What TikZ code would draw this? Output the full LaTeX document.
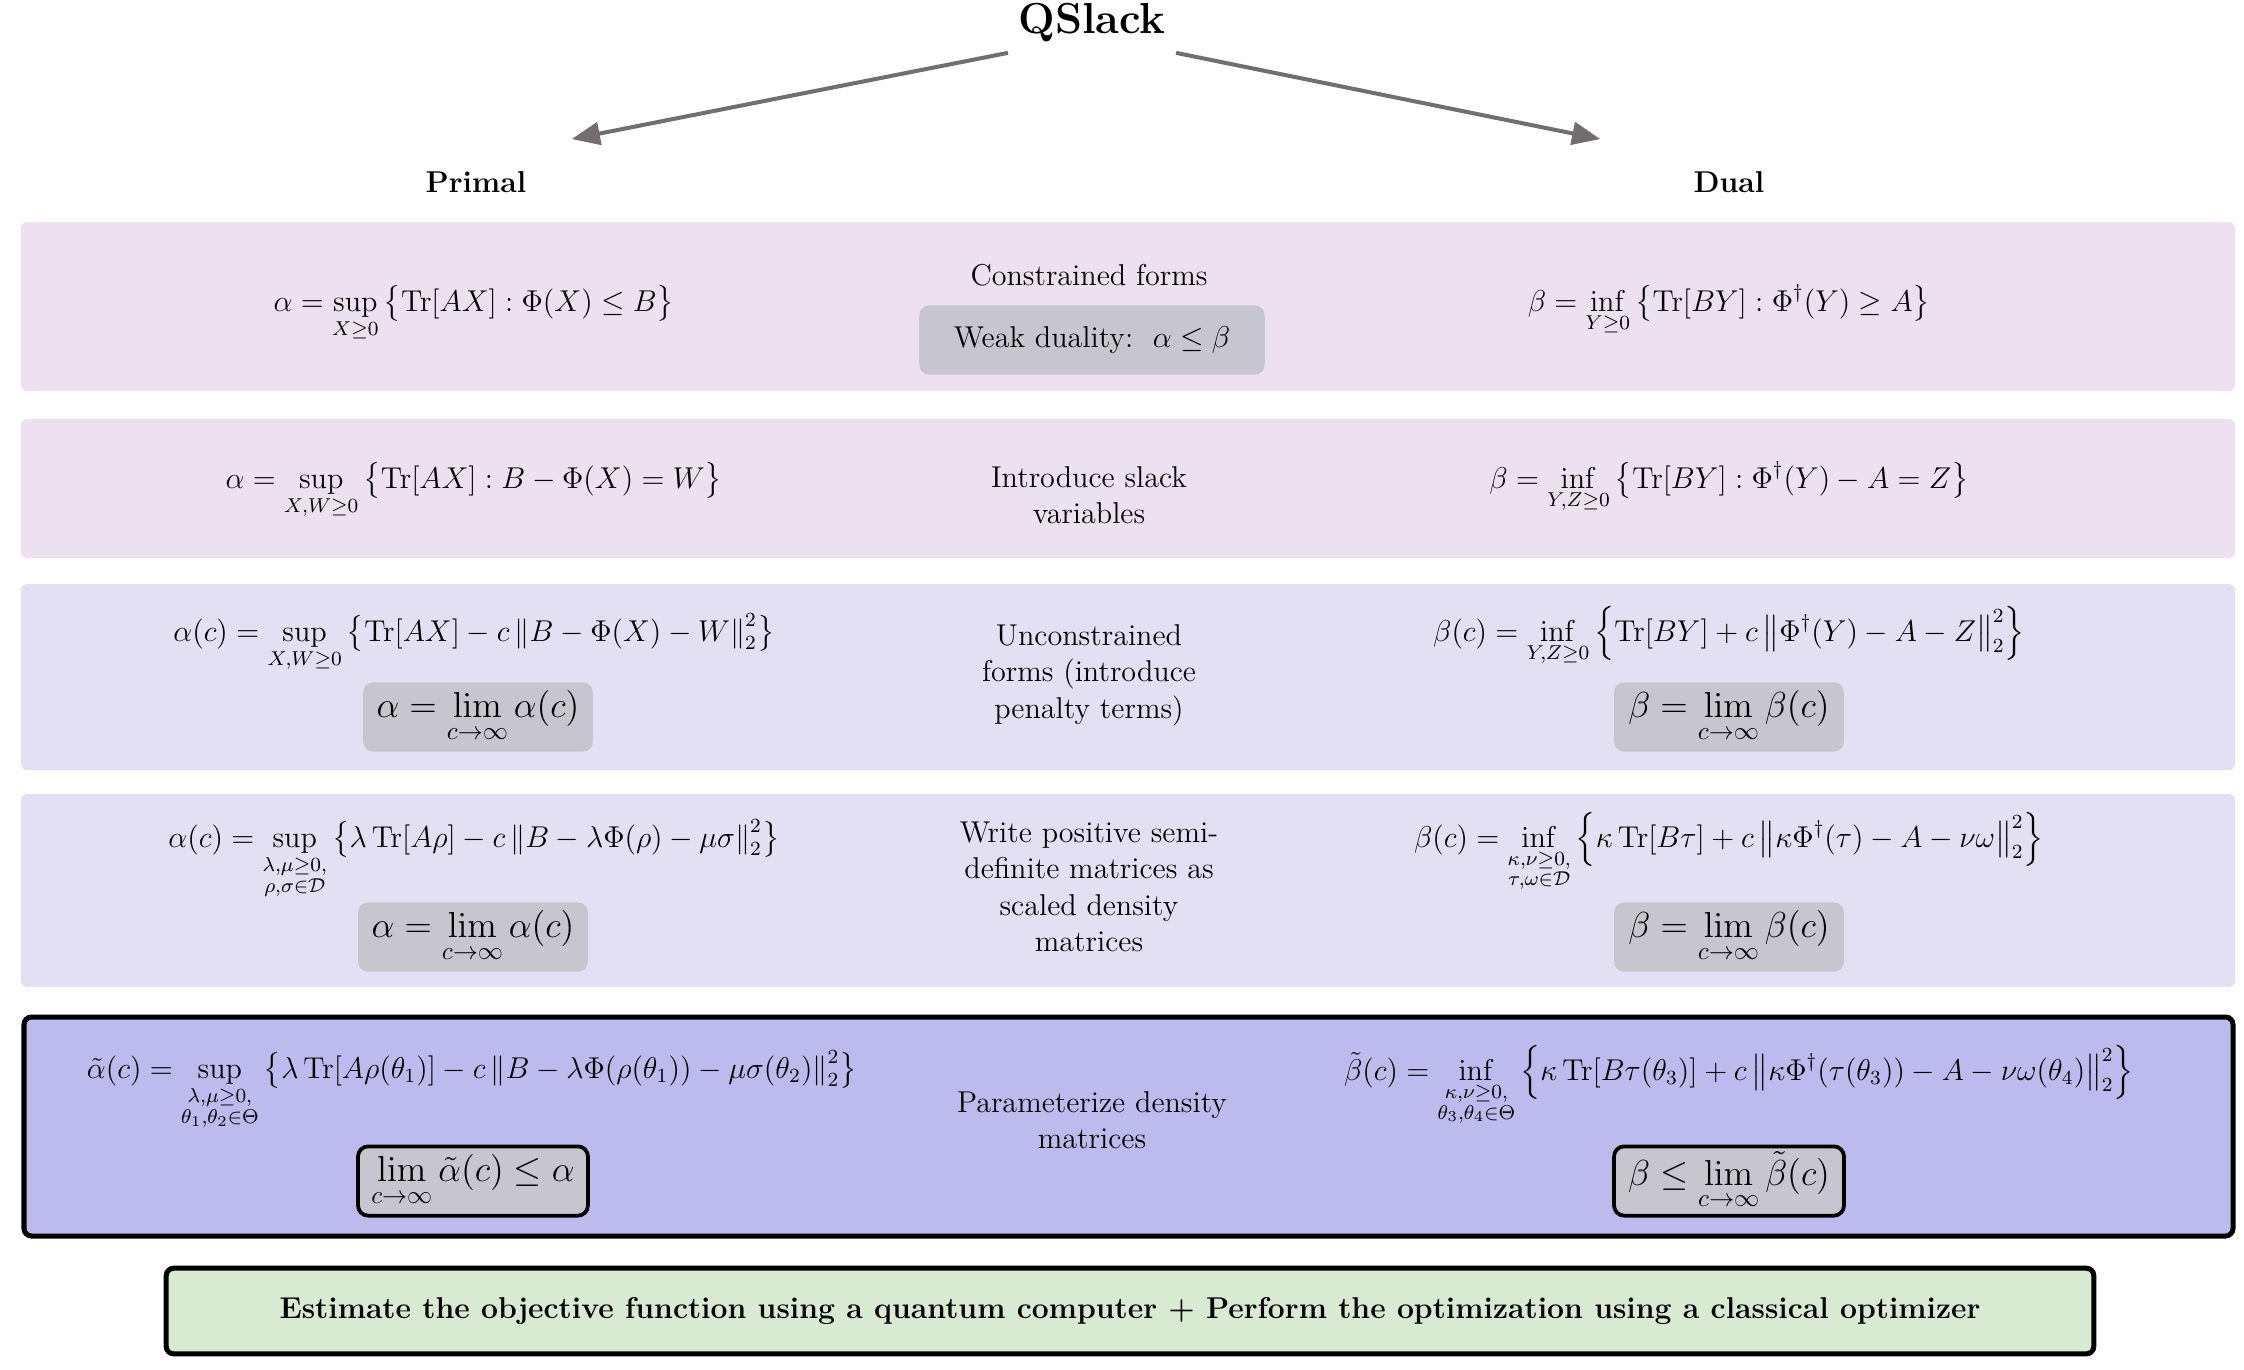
\documentclass[tikz,border=0pt,12pt]{standalone}
\usepackage{amsmath}
\usepackage{amsfonts}
\usepackage{amssymb}
\usetikzlibrary{arrows}

\definecolor{pinkband}{HTML}{EDE1F1}
\definecolor{lilacband}{HTML}{E3E0F3}
\definecolor{blueband}{HTML}{BDBBEE}
\definecolor{limgray}{HTML}{C7C6CE}
\definecolor{greenbox}{HTML}{D9EAD3}
\definecolor{arrowgray}{HTML}{736D70}

\begin{document}
\begin{tikzpicture}[x=0.014cm, y=-0.014cm,
  band/.style={rounded corners=2.5pt},
  limbox/.style={fill=limgray, rounded corners=4pt, minimum width=3.22cm, minimum height=0.97cm, inner sep=2pt, font=\large},
  midtext/.style={align=center},
  formula/.style={anchor=base},
  head/.style={font=\bfseries}]
\useasboundingbox (0,0) rectangle (2244,1369);

% background bands
\fill[pinkband, band] (21,222) rectangle (2235,391);
\fill[pinkband, band] (21,419) rectangle (2235,558);
\fill[lilacband, band] (21,584) rectangle (2235,770);
\fill[lilacband, band] (21,794) rectangle (2235,987);
\draw[black, line width=2pt, fill=blueband, rounded corners=3pt] (24,1017) rectangle (2233,1236);

% title and branches
\node[head, font=\bfseries\Large] (qs) at (1092,23) {QSlack};
\node[head] (primal) at (476,182) {Primal};
\node[head] (dual) at (1729,182) {Dual};
\coordinate (pl) at (572,139);
\coordinate (dl) at (1600,139);
\draw[-triangle 45, arrowgray, line width=1.6pt] (qs.south west) -- (pl);
\draw[-triangle 45, arrowgray, line width=1.6pt] (qs.south east) -- (dl);

% row 1
\node[formula] (p1) at (474,311) {$\displaystyle \alpha = \sup_{X\geq 0}\big\{\mathrm{Tr}[AX] : \Phi(X)\leq B\big\}$};
\node[midtext] (m1) at (1089,275) {Constrained forms};
\node[limbox, minimum width=4.84cm, font=\normalsize] (wd) at (1092,340) {Weak duality:\ \ $\alpha\leq\beta$};
\node[formula] (d1) at (1729,311) {$\displaystyle \beta = \inf_{Y\geq 0}\big\{\mathrm{Tr}[BY] : \Phi^\dagger(Y)\geq A\big\}$};

% row 2
\node[formula] (p2) at (474,488) {$\displaystyle \alpha = \sup_{X,W\geq 0}\big\{\mathrm{Tr}[AX] : B-\Phi(X) = W\big\}$};
\node[midtext] (m2) at (1089,495) {Introduce slack\\variables};
\node[formula] (d2) at (1729,488) {$\displaystyle \beta = \inf_{Y,Z\geq 0}\big\{\mathrm{Tr}[BY] : \Phi^\dagger(Y)-A = Z\big\}$};

% row 3
\node[formula] (p3) at (474,641) {$\displaystyle \alpha(c) = \sup_{X,W\geq 0}\left\{\mathrm{Tr}[AX] - c\left\|B-\Phi(X)-W\right\|_2^2\right\}$};
\node[limbox] (l3) at (478,717) {$\displaystyle \alpha = \lim_{c\to\infty}\alpha(c)$};
\node[midtext] (m3) at (1089,675) {Unconstrained\\forms (introduce\\penalty terms)};
\node[formula] (d3) at (1729,641) {$\displaystyle \beta(c) = \inf_{Y,Z\geq 0}\left\{\mathrm{Tr}[BY] + c\left\|\Phi^\dagger(Y)-A-Z\right\|_2^2\right\}$};
\node[limbox] (r3) at (1729,717) {$\displaystyle \beta = \lim_{c\to\infty}\beta(c)$};

% row 4
\node[formula] (p4) at (474,847) {$\displaystyle \alpha(c) = \sup_{\substack{\lambda,\mu\geq 0,\\ \rho,\sigma\in\mathcal{D}}}\left\{\lambda\,\mathrm{Tr}[A\rho] - c\left\|B-\lambda\Phi(\rho)-\mu\sigma\right\|_2^2\right\}$};
\node[limbox] (l4) at (473,937) {$\displaystyle \alpha = \lim_{c\to\infty}\alpha(c)$};
\node[midtext] (m4) at (1089,887) {Write positive semi-\\definite matrices as\\scaled density\\matrices};
\node[formula] (d4) at (1729,847) {$\displaystyle \beta(c) = \inf_{\substack{\kappa,\nu\geq 0,\\ \tau,\omega\in\mathcal{D}}}\left\{\kappa\,\mathrm{Tr}[B\tau] + c\left\|\kappa\Phi^\dagger(\tau)-A-\nu\omega\right\|_2^2\right\}$};
\node[limbox] (r4) at (1729,937) {$\displaystyle \beta = \lim_{c\to\infty}\beta(c)$};

% row 5
\node[formula] (p5) at (472,1078) {$\displaystyle \tilde{\alpha}(c) = \sup_{\substack{\lambda,\mu\geq 0,\\ \theta_1,\theta_2\in\Theta}}\left\{\lambda\,\mathrm{Tr}[A\rho(\theta_1)] - c\left\|B-\lambda\Phi(\rho(\theta_1))-\mu\sigma(\theta_2)\right\|_2^2\right\}$};
\node[limbox, draw=black, line width=1.5pt] (l5) at (473,1181) {$\displaystyle \lim_{c\to\infty}\tilde{\alpha}(c)\leq\alpha$};
\node[midtext] (m5) at (1092,1120) {Parameterize density\\matrices};
\node[formula] (d5) at (1739,1080) {$\displaystyle \tilde{\beta}(c) = \inf_{\substack{\kappa,\nu\geq 0,\\ \theta_3,\theta_4\in\Theta}}\left\{\kappa\,\mathrm{Tr}[B\tau(\theta_3)] + c\left\|\kappa\Phi^\dagger(\tau(\theta_3))-A-\nu\omega(\theta_4)\right\|_2^2\right\}$};
\node[limbox, draw=black, line width=1.5pt] (r5) at (1729,1181) {$\displaystyle \beta\leq\lim_{c\to\infty}\tilde{\beta}(c)$};

% classical loop
\node[draw=black, line width=2pt, fill=greenbox, rounded corners=3pt, minimum width=27cm, minimum height=1.2cm, font=\bfseries] (opt) at (1130,1311) {Estimate the objective function using a quantum computer + Perform the optimization using a classical optimizer};
\end{tikzpicture}
\end{document}
